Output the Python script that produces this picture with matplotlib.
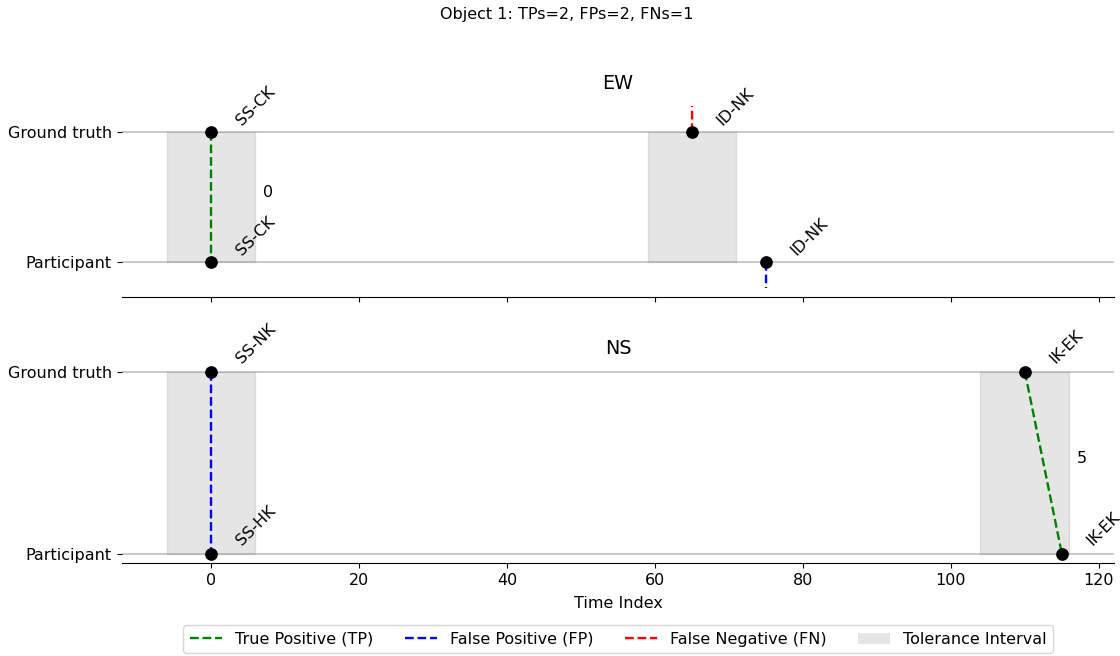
import matplotlib
matplotlib.use("Agg")
import matplotlib.pyplot as plt
from matplotlib.lines import Line2D
from matplotlib.patches import Patch

plt.rcParams["font.size"] = 11.5

TOLERANCE = 6

# per panel: ground truth events and participant events (time, label)
panels = ["EW", "NS"]
gt_times = {"EW": [0, 65], "NS": [0, 110]}
gt_labels = {"EW": ["SS-CK", "ID-NK"], "NS": ["SS-NK", "IK-EK"]}
pt_times = {"EW": [0, 75], "NS": [0, 115]}
pt_labels = {"EW": ["SS-CK", "ID-NK"], "NS": ["SS-HK", "IK-EK"]}

# matches: (gt index, participant index, kind)
matches = {"EW": [(0, 0, "TP")], "NS": [(0, 0, "FP"), (1, 1, "TP")]}
unmatched_gt = {"EW": [1], "NS": []}       # false negatives
unmatched_pt = {"EW": [1], "NS": []}       # false positives with no partner

COL = {"TP": "green", "FP": "blue", "FN": "red"}
LW = 1.7

fig = plt.figure(figsize=(11.2, 6.56), dpi=100)
ax1 = fig.add_axes([0.1085, 0.547, 0.8865, 0.305])
ax2 = fig.add_axes([0.1085, 0.142, 0.8865, 0.305], sharex=ax1)
fig.suptitle("Object 1: TPs=2, FPs=2, FNs=1", fontsize=11.5, x=0.506, y=0.99)

for ax, name in zip([ax1, ax2], panels):
    ax.axhline(1, color="#bbbbbb", lw=1.1, zorder=0)
    ax.axhline(0, color="#bbbbbb", lw=1.1, zorder=0)
    for t in gt_times[name]:
        ax.fill_between([t - TOLERANCE, t + TOLERANCE], 0, 1,
                        color="gray", alpha=0.2, lw=1, zorder=1)
    for gi, pi, kind in matches[name]:
        g, p = gt_times[name][gi], pt_times[name][pi]
        ax.plot([g, p], [1, 0], ls="--", color=COL[kind], lw=LW, zorder=2)
        if kind == "TP":
            # time difference, written just right of the tolerance band
            ax.text(g + TOLERANCE + 1, 0.5, str(abs(p - g)))
    for gi in unmatched_gt[name]:
        g = gt_times[name][gi]
        ax.plot([g, g], [1, 1.2], ls="--", color=COL["FN"], lw=LW, zorder=2)
    for pi in unmatched_pt[name]:
        p = pt_times[name][pi]
        ax.plot([p, p], [0, -0.2], ls="--", color=COL["FP"], lw=LW, zorder=2)
    ax.scatter(gt_times[name], [1] * len(gt_times[name]), color="black", s=66, zorder=3)
    ax.scatter(pt_times[name], [0] * len(pt_times[name]), color="black", s=66, zorder=3)
    for t, lab in zip(gt_times[name], gt_labels[name]):
        ax.text(t + 3, 1.03, lab, rotation=45, ha="left", va="bottom")
    for t, lab in zip(pt_times[name], pt_labels[name]):
        ax.text(t + 3, 0.03, lab, rotation=45, ha="left", va="bottom")
    ax.set_yticks([0, 1])
    ax.set_yticklabels(["Participant", "Ground truth"])
    ax.set_title(name, fontsize=13.8)
    for s in ["top", "right", "left"]:
        ax.spines[s].set_visible(False)

ax1.tick_params(labelbottom=False)
ax2.set_xlabel("Time Index", labelpad=6)

handles = [
    Line2D([], [], ls="--", color="green", lw=LW, label="True Positive (TP)"),
    Line2D([], [], ls="--", color="blue", lw=LW, label="False Positive (FP)"),
    Line2D([], [], ls="--", color="red", lw=LW, label="False Negative (FN)"),
    Patch(facecolor="gray", alpha=0.2, label="Tolerance Interval"),
]
fig.legend(handles=handles, loc="lower center", ncol=4,
           bbox_to_anchor=(0.552, -0.008))

fig.savefig("out.png", dpi=100)
